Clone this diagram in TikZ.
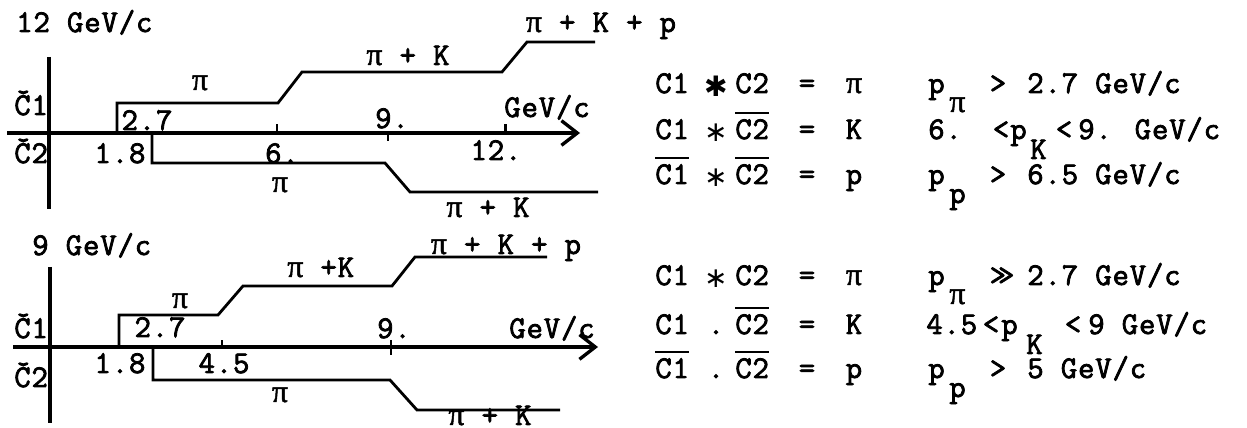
\documentclass[tikz,border=0pt]{standalone}
\usepackage{fontspec}
\setmainfont{Latin Modern Mono}[FakeBold=2.5, LetterSpace=3]
\newfontfamily\dvs{DejaVu Sans}
\newfontfamily\grk{Liberation Serif}[FakeBold=1.5]
\newcommand\pii{{\grk π}}
\usetikzlibrary{arrows.meta}
\newcommand\ovl[1]{\sbox0{#1}\rlap{\rule[\dimexpr\ht0+3pt\relax]{\wd0}{1.2pt}}\usebox0}
\begin{document}
\begin{tikzpicture}[x=0.02cm,y=-0.02cm,
  lbl/.style={anchor=base, inner sep=0pt, font=\fontsize{18}{20}\selectfont},
  lblw/.style={lbl, anchor=base west},
  sym/.style={anchor=center, inner sep=0pt, font=\dvs\fontsize{16}{18}\selectfont},
  axis/.style={line width=1.9pt},
  curve/.style={line width=1.6pt, line join=miter},
  tickmark/.style={line width=1.7pt}]
\useasboundingbox (0,0) rectangle (1247,428);
\fill[white] (0,0) rectangle (1247,428);

% ---------------- top diagram (12 GeV/c) ----------------
\node[lblw] (t12) at (16,32) {12 GeV/c};
\node[lblw] (tc1) at (14,115) {Č1};
\node[lblw] (tc2) at (14,163) {Č2};
\draw[axis] (49,57) -- (49,209);
\draw[axis, -{Straight Barb[length=9pt,width=14pt]}] (7,133) -- (580,133);
\draw[curve] (117,133) -- (117,103) -- (278,103) -- (302,72) -- (502,72) -- (527,42) -- (595,42);
\draw[curve] (152,133) -- (152,163) -- (385,163) -- (410,192) -- (598,192);
\draw[tickmark] (277,133) -- (277,124);
\draw[tickmark] (388,133) -- (388,141);
\draw[tickmark] (505,133) -- (505,124);
\node[lbl] (ta) at (200,90) {\pii};
\node[lbl] (tb) at (147,130) {2.7};
\node[lbl] (tc) at (120,163) {1.8};
\node[lbl] (td) at (282,163) {6.};
\node[lbl] (te) at (280,192) {\pii};
\node[lbl] (tf) at (408,65) {\pii{} + K};
\node[lbl] (tg) at (392,128) {9.};
\node[lbl] (th) at (547,117) {GeV/c};
\node[lbl] (ti) at (496,160) {12.};
\node[lbl] (tj) at (488,217) {\pii{} + K};
\node[lbl] (tk) at (601,32) {\pii{} + K + p};

% ---------------- bottom diagram (9 GeV/c) ----------------
\node[lblw] (b9) at (32,255) {9 GeV/c};
\node[lblw] (bc1) at (14,338) {Č1};
\node[lblw] (bc2) at (14,387) {Č2};
\draw[axis] (50,267) -- (50,423);
\draw[axis, -{Straight Barb[length=9pt,width=14pt]}] (13,347) -- (598,347);
\draw[curve] (119,347) -- (119,315) -- (218,315) -- (243,286) -- (392,286) -- (415,257) -- (547,257);
\draw[curve] (153,347) -- (153,380) -- (390,380) -- (417,410) -- (560,410);
\draw[tickmark] (222,347) -- (222,340);
\draw[tickmark] (391,340) -- (391,355);
\node[lbl] (ba) at (180,308) {\pii};
\node[lbl] (bb) at (160,337) {2.7};
\node[lbl] (bc) at (120,373) {1.8};
\node[lbl] (bd) at (224,373) {4.5};
\node[lbl] (bf) at (280,402) {\pii};
\node[lblw] (bg) at (287,277) {\pii{} +K};
\node[lbl] (bh) at (506,254) {\pii{} + K + p};
\node[lbl] (bi) at (394,338) {9.};
\node[lbl] (bj) at (552,338) {GeV/c};
\node[lbl] (bk) at (490,425) {\pii{} + K};

% ---------------- top table ----------------
% row 1
\node[lblw] (r1a) at (655,93) {C1};
\node[sym]  (r1b) at (716,86) {✱};
\node[lblw] (r1c) at (735,93) {C2};
\node[lbl]  (r1d) at (807,93) {=};
\node[lbl]  (r1e) at (854,93) {\pii};
\node[lblw] (r1f) at (928,93) {p};
\node[lblw] (r1g) at (949,112) {\pii};
\node[lbl]  (r1h) at (998,93) {>};
\node[lblw] (r1i) at (1027,93) {2.7 GeV/c};
% row 2
\node[lblw] (r2a) at (655,139) {C1};
\node[sym]  (r2b) at (716,133) {∗};
\node[lblw] (r2c) at (735,139) {\ovl{C2}};
\node[lbl]  (r2d) at (807,139) {=};
\node[lbl]  (r2e) at (854,139) {K};
\node[lblw] (r2f) at (928,139) {6.};
\node[lbl]  (r2g) at (1001,139) {<};
\node[lblw] (r2h) at (1010,139) {p};
\node[lblw] (r2i) at (1030,159) {K};
\node[lbl]  (r2j) at (1064,139) {<};
\node[lblw] (r2k) at (1078,139) {9. GeV/c};
% row 3
\node[lblw] (r3a) at (655,184) {\ovl{C1}};
\node[sym]  (r3b) at (716,178) {∗};
\node[lblw] (r3c) at (735,184) {\ovl{C2}};
\node[lbl]  (r3d) at (807,184) {=};
\node[lbl]  (r3e) at (854,184) {p};
\node[lblw] (r3f) at (928,184) {p};
\node[lblw] (r3g) at (949,203) {p};
\node[lbl]  (r3h) at (998,184) {>};
\node[lblw] (r3i) at (1027,184) {6.5 GeV/c};

% ---------------- bottom table ----------------
% row 1
\node[lblw] (s1a) at (655,285) {C1};
\node[sym]  (s1b) at (716,279) {∗};
\node[lblw] (s1c) at (735,285) {C2};
\node[lbl]  (s1d) at (807,285) {=};
\node[lbl]  (s1e) at (854,285) {\pii};
\node[lblw] (s1f) at (928,285) {p};
\node[lblw] (s1g) at (949,304) {\pii};
\node[lbl]  (s1h) at (1002,285) {>\kern-0.25em>};
\node[lblw] (s1i) at (1027,285) {2.7 GeV/c};
% row 2
\node[lblw] (s2a) at (655,334) {C1};
\node[lbl]  (s2b) at (716,334) {.};
\node[lblw] (s2c) at (735,334) {\ovl{C2}};
\node[lbl]  (s2d) at (807,334) {=};
\node[lbl]  (s2e) at (854,334) {K};
\node[lblw] (s2f) at (926,334) {4.5};
\node[lbl]  (s2g) at (991,334) {<};
\node[lblw] (s2h) at (1001,334) {p};
\node[lblw] (s2i) at (1026,354) {K};
\node[lbl]  (s2j) at (1073,334) {<};
\node[lblw] (s2k) at (1088,334) {9 GeV/c};
% row 3
\node[lblw] (s3a) at (655,378) {\ovl{C1}};
\node[lbl]  (s3b) at (716,378) {.};
\node[lblw] (s3c) at (735,378) {\ovl{C2}};
\node[lbl]  (s3d) at (807,378) {=};
\node[lbl]  (s3e) at (854,378) {p};
\node[lblw] (s3f) at (928,378) {p};
\node[lblw] (s3g) at (949,397) {p};
\node[lbl]  (s3h) at (998,378) {>};
\node[lblw] (s3i) at (1027,378) {5 GeV/c};
\end{tikzpicture}
\end{document}
